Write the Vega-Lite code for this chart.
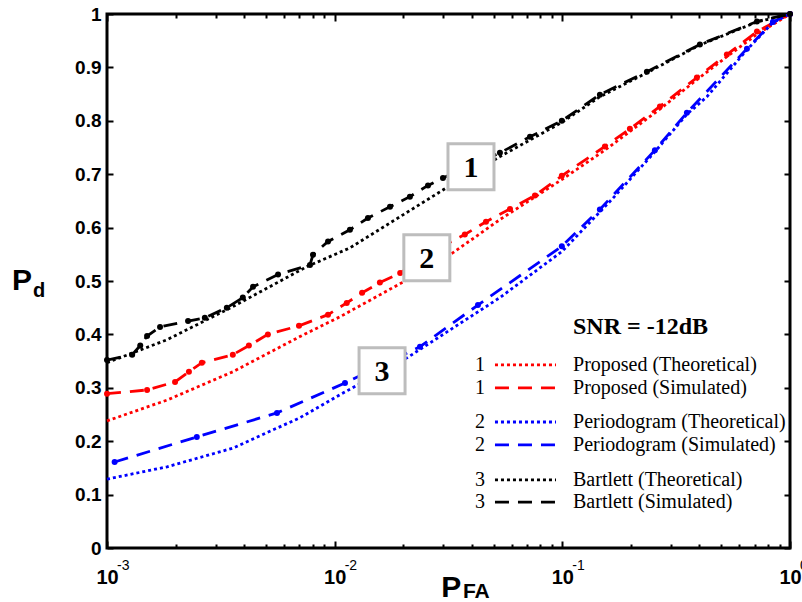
{
  "$schema": "https://vega.github.io/schema/vega-lite/v6.json",
  "width": 683,
  "height": 534,
  "autosize": {"type": "none"},
  "padding": {"left": 107, "top": 14, "right": 12, "bottom": 54},
  "background": "white",
  "config": {"view": {"stroke": "black", "strokeWidth": 3}},
  "datasets": {
    "curves": [
      {"series": "Proposed (Theoretical)", "pfa": 0.001, "pd": 0.238},
      {"series": "Proposed (Theoretical)", "pfa": 0.001835, "pd": 0.277},
      {"series": "Proposed (Theoretical)", "pfa": 0.00357, "pd": 0.33},
      {"series": "Proposed (Theoretical)", "pfa": 0.00704, "pd": 0.396},
      {"series": "Proposed (Theoretical)", "pfa": 0.01055, "pd": 0.433},
      {"series": "Proposed (Theoretical)", "pfa": 0.02077, "pd": 0.502},
      {"series": "Proposed (Theoretical)", "pfa": 0.0331, "pd": 0.553},
      {"series": "Proposed (Theoretical)", "pfa": 0.0532, "pd": 0.615},
      {"series": "Proposed (Theoretical)", "pfa": 0.0995, "pd": 0.69},
      {"series": "Proposed (Theoretical)", "pfa": 0.1538, "pd": 0.745},
      {"series": "Proposed (Theoretical)", "pfa": 0.2684, "pd": 0.822},
      {"series": "Proposed (Theoretical)", "pfa": 0.39, "pd": 0.877},
      {"series": "Proposed (Theoretical)", "pfa": 0.528, "pd": 0.92},
      {"series": "Proposed (Theoretical)", "pfa": 0.716, "pd": 0.962},
      {"series": "Proposed (Theoretical)", "pfa": 1, "pd": 1},

      {"series": "Proposed (Simulated)", "pfa": 0.001, "pd": 0.289},
      {"series": "Proposed (Simulated)", "pfa": 0.0015, "pd": 0.296},
      {"series": "Proposed (Simulated)", "pfa": 0.00199, "pd": 0.311},
      {"series": "Proposed (Simulated)", "pfa": 0.00229, "pd": 0.33},
      {"series": "Proposed (Simulated)", "pfa": 0.00261, "pd": 0.347},
      {"series": "Proposed (Simulated)", "pfa": 0.00357, "pd": 0.362},
      {"series": "Proposed (Simulated)", "pfa": 0.0042, "pd": 0.379},
      {"series": "Proposed (Simulated)", "pfa": 0.00509, "pd": 0.4},
      {"series": "Proposed (Simulated)", "pfa": 0.00697, "pd": 0.416},
      {"series": "Proposed (Simulated)", "pfa": 0.00935, "pd": 0.437},
      {"series": "Proposed (Simulated)", "pfa": 0.0113, "pd": 0.459},
      {"series": "Proposed (Simulated)", "pfa": 0.0132, "pd": 0.478},
      {"series": "Proposed (Simulated)", "pfa": 0.0158, "pd": 0.497},
      {"series": "Proposed (Simulated)", "pfa": 0.0194, "pd": 0.515},
      {"series": "Proposed (Simulated)", "pfa": 0.0262, "pd": 0.553},
      {"series": "Proposed (Simulated)", "pfa": 0.0373, "pd": 0.587},
      {"series": "Proposed (Simulated)", "pfa": 0.0462, "pd": 0.611},
      {"series": "Proposed (Simulated)", "pfa": 0.0589, "pd": 0.635},
      {"series": "Proposed (Simulated)", "pfa": 0.0758, "pd": 0.66},
      {"series": "Proposed (Simulated)", "pfa": 0.0995, "pd": 0.697},
      {"series": "Proposed (Simulated)", "pfa": 0.1538, "pd": 0.752},
      {"series": "Proposed (Simulated)", "pfa": 0.198, "pd": 0.785},
      {"series": "Proposed (Simulated)", "pfa": 0.2684, "pd": 0.827},
      {"series": "Proposed (Simulated)", "pfa": 0.39, "pd": 0.881},
      {"series": "Proposed (Simulated)", "pfa": 0.528, "pd": 0.924},
      {"series": "Proposed (Simulated)", "pfa": 0.716, "pd": 0.967},
      {"series": "Proposed (Simulated)", "pfa": 1, "pd": 1},

      {"series": "Periodogram (Theoretical)", "pfa": 0.001, "pd": 0.129},
      {"series": "Periodogram (Theoretical)", "pfa": 0.001835, "pd": 0.152},
      {"series": "Periodogram (Theoretical)", "pfa": 0.00357, "pd": 0.187},
      {"series": "Periodogram (Theoretical)", "pfa": 0.00704, "pd": 0.244},
      {"series": "Periodogram (Theoretical)", "pfa": 0.01055, "pd": 0.287},
      {"series": "Periodogram (Theoretical)", "pfa": 0.02077, "pd": 0.356},
      {"series": "Periodogram (Theoretical)", "pfa": 0.0532, "pd": 0.469},
      {"series": "Periodogram (Theoretical)", "pfa": 0.0995, "pd": 0.555},
      {"series": "Periodogram (Theoretical)", "pfa": 0.1668, "pd": 0.655},
      {"series": "Periodogram (Theoretical)", "pfa": 0.255, "pd": 0.742},
      {"series": "Periodogram (Theoretical)", "pfa": 0.3524, "pd": 0.812},
      {"series": "Periodogram (Theoretical)", "pfa": 0.4315, "pd": 0.845},
      {"series": "Periodogram (Theoretical)", "pfa": 0.647, "pd": 0.933},
      {"series": "Periodogram (Theoretical)", "pfa": 0.841, "pd": 0.984},
      {"series": "Periodogram (Theoretical)", "pfa": 1, "pd": 1},

      {"series": "Periodogram (Simulated)", "pfa": 0.00108, "pd": 0.161},
      {"series": "Periodogram (Simulated)", "pfa": 0.00248, "pd": 0.208},
      {"series": "Periodogram (Simulated)", "pfa": 0.00558, "pd": 0.253},
      {"series": "Periodogram (Simulated)", "pfa": 0.0111, "pd": 0.309},
      {"series": "Periodogram (Simulated)", "pfa": 0.0237, "pd": 0.377},
      {"series": "Periodogram (Simulated)", "pfa": 0.0426, "pd": 0.455},
      {"series": "Periodogram (Simulated)", "pfa": 0.0995, "pd": 0.565},
      {"series": "Periodogram (Simulated)", "pfa": 0.1462, "pd": 0.634},
      {"series": "Periodogram (Simulated)", "pfa": 0.255, "pd": 0.745},
      {"series": "Periodogram (Simulated)", "pfa": 0.3524, "pd": 0.815},
      {"series": "Periodogram (Simulated)", "pfa": 0.647, "pd": 0.935},
      {"series": "Periodogram (Simulated)", "pfa": 0.841, "pd": 0.985},
      {"series": "Periodogram (Simulated)", "pfa": 1, "pd": 1},

      {"series": "Bartlett (Theoretical)", "pfa": 0.001, "pd": 0.347},
      {"series": "Bartlett (Theoretical)", "pfa": 0.001835, "pd": 0.39},
      {"series": "Bartlett (Theoretical)", "pfa": 0.00357, "pd": 0.452},
      {"series": "Bartlett (Theoretical)", "pfa": 0.00756, "pd": 0.527},
      {"series": "Bartlett (Theoretical)", "pfa": 0.01167, "pd": 0.562},
      {"series": "Bartlett (Theoretical)", "pfa": 0.0311, "pd": 0.675},
      {"series": "Bartlett (Theoretical)", "pfa": 0.0532, "pd": 0.733},
      {"series": "Bartlett (Theoretical)", "pfa": 0.0995, "pd": 0.797},
      {"series": "Bartlett (Theoretical)", "pfa": 0.1462, "pd": 0.845},
      {"series": "Bartlett (Theoretical)", "pfa": 0.2352, "pd": 0.89},
      {"series": "Bartlett (Theoretical)", "pfa": 0.402, "pd": 0.942},
      {"series": "Bartlett (Theoretical)", "pfa": 0.716, "pd": 0.985},
      {"series": "Bartlett (Theoretical)", "pfa": 1, "pd": 1},

      {"series": "Bartlett (Simulated)", "pfa": 0.001, "pd": 0.352},
      {"series": "Bartlett (Simulated)", "pfa": 0.00129, "pd": 0.362},
      {"series": "Bartlett (Simulated)", "pfa": 0.0014, "pd": 0.379},
      {"series": "Bartlett (Simulated)", "pfa": 0.0015, "pd": 0.397},
      {"series": "Bartlett (Simulated)", "pfa": 0.00171, "pd": 0.414},
      {"series": "Bartlett (Simulated)", "pfa": 0.00227, "pd": 0.425},
      {"series": "Bartlett (Simulated)", "pfa": 0.00269, "pd": 0.431},
      {"series": "Bartlett (Simulated)", "pfa": 0.00336, "pd": 0.45},
      {"series": "Bartlett (Simulated)", "pfa": 0.00395, "pd": 0.469},
      {"series": "Bartlett (Simulated)", "pfa": 0.00438, "pd": 0.489},
      {"series": "Bartlett (Simulated)", "pfa": 0.00564, "pd": 0.512},
      {"series": "Bartlett (Simulated)", "pfa": 0.00779, "pd": 0.53},
      {"series": "Bartlett (Simulated)", "pfa": 0.00803, "pd": 0.549},
      {"series": "Bartlett (Simulated)", "pfa": 0.00935, "pd": 0.574},
      {"series": "Bartlett (Simulated)", "pfa": 0.01167, "pd": 0.596},
      {"series": "Bartlett (Simulated)", "pfa": 0.014, "pd": 0.618},
      {"series": "Bartlett (Simulated)", "pfa": 0.0175, "pd": 0.639},
      {"series": "Bartlett (Simulated)", "pfa": 0.0214, "pd": 0.658},
      {"series": "Bartlett (Simulated)", "pfa": 0.0257, "pd": 0.679},
      {"series": "Bartlett (Simulated)", "pfa": 0.0299, "pd": 0.693},
      {"series": "Bartlett (Simulated)", "pfa": 0.0532, "pd": 0.74},
      {"series": "Bartlett (Simulated)", "pfa": 0.0721, "pd": 0.77},
      {"series": "Bartlett (Simulated)", "pfa": 0.0995, "pd": 0.8},
      {"series": "Bartlett (Simulated)", "pfa": 0.1462, "pd": 0.849},
      {"series": "Bartlett (Simulated)", "pfa": 0.2352, "pd": 0.892},
      {"series": "Bartlett (Simulated)", "pfa": 0.402, "pd": 0.943},
      {"series": "Bartlett (Simulated)", "pfa": 0.716, "pd": 0.986},
      {"series": "Bartlett (Simulated)", "pfa": 1, "pd": 1}
    ],
    "boxes": [
      {"label": "1", "pfa": 0.0397, "pd": 0.714},
      {"label": "2", "pfa": 0.0254, "pd": 0.5436},
      {"label": "3", "pfa": 0.01615, "pd": 0.332}
    ],
    "legend": [
      {"num": "1", "series": "Proposed (Theoretical)", "pd": 0.343},
      {"num": "1", "series": "Proposed (Simulated)", "pd": 0.3},
      {"num": "2", "series": "Periodogram (Theoretical)", "pd": 0.236},
      {"num": "2", "series": "Periodogram (Simulated)", "pd": 0.193},
      {"num": "3", "series": "Bartlett (Theoretical)", "pd": 0.1275},
      {"num": "3", "series": "Bartlett (Simulated)", "pd": 0.086}
    ],
    "exponents": [
      {"pfa": 0.001, "exp": "-3"},
      {"pfa": 0.01, "exp": "-2"},
      {"pfa": 0.1, "exp": "-1"},
      {"pfa": 1, "exp": "0"}
    ]
  },
  "resolve": {"axis": {"x": "independent", "y": "independent"}},
  "layer": [
    {
      "data": {"name": "curves"},
      "mark": {"type": "line", "strokeWidth": 2.8},
      "encoding": {
        "x": {"field": "pfa", "type": "quantitative",
          "scale": {"type": "log", "domain": [0.001, 1], "nice": false},
          "axis": {"orient": "bottom", "title": null, "grid": false, "domain": false, "ticks": true,
            "values": [0.001, 0.002, 0.003, 0.004, 0.005, 0.006, 0.007, 0.008, 0.009, 0.01, 0.02, 0.03, 0.04, 0.05, 0.06, 0.07, 0.08, 0.09, 0.1, 0.2, 0.3, 0.4, 0.5, 0.6, 0.7, 0.8, 0.9, 1],
            "labelExpr": "datum.value == 0.001 || datum.value == 0.01 || datum.value == 0.1 || datum.value == 1 ? '10' : ''",
            "tickSize": {"condition": {"test": "datum.value == 0.001 || datum.value == 0.01 || datum.value == 0.1 || datum.value == 1", "value": -7}, "value": -4},
            "tickWidth": 2, "tickColor": "black", "tickOpacity": 1,
            "labelFont": "Liberation Sans", "labelFontWeight": "bold", "labelFontSize": 20, "labelColor": "black",
            "labelPadding": 26, "labelOverlap": false, "labelFlush": false}},
        "y": {"field": "pd", "type": "quantitative",
          "scale": {"domain": [0, 1], "nice": false},
          "axis": {"orient": "left", "title": null, "grid": false, "domain": false, "ticks": true,
            "values": [0, 0.1, 0.2, 0.3, 0.4, 0.5, 0.6, 0.7, 0.8, 0.9, 1], "format": ".1~f",
            "tickSize": -6, "tickWidth": 2, "tickColor": "black", "tickOpacity": 1,
            "labelFont": "Liberation Sans", "labelFontWeight": "bold", "labelFontSize": 19, "labelColor": "black",
            "labelPadding": 12, "labelOverlap": false, "labelFlush": false}},
        "color": {"field": "series", "type": "nominal", "legend": null,
          "scale": {"domain": ["Proposed (Theoretical)", "Proposed (Simulated)", "Periodogram (Theoretical)", "Periodogram (Simulated)", "Bartlett (Theoretical)", "Bartlett (Simulated)"],
            "range": ["#ff0000", "#ff0000", "#0000ff", "#0000ff", "#000000", "#000000"]}},
        "strokeDash": {"field": "series", "type": "nominal", "legend": null,
          "scale": {"domain": ["Proposed (Theoretical)", "Proposed (Simulated)", "Periodogram (Theoretical)", "Periodogram (Simulated)", "Bartlett (Theoretical)", "Bartlett (Simulated)"],
            "range": [[3, 3], [14, 9], [3, 3], [14, 9], [3, 3], [14, 9]]}},
        "order": {"field": "pfa", "type": "quantitative"}
      }
    },
    {
      "data": {"name": "curves"},
      "transform": [{"filter": "indexof(datum.series, 'Simulated') >= 0"}],
      "mark": {"type": "point", "filled": true, "size": 36, "opacity": 1},
      "encoding": {
        "x": {"field": "pfa", "type": "quantitative", "scale": {"type": "log", "domain": [0.001, 1], "nice": false}, "axis": null},
        "y": {"field": "pd", "type": "quantitative", "scale": {"domain": [0, 1], "nice": false}, "axis": null},
        "color": {"field": "series", "type": "nominal", "legend": null}
      }
    },
    {
      "data": {"name": "boxes"},
      "mark": {"type": "square", "size": 2116, "fill": "white", "stroke": "#bdbdbd", "strokeWidth": 3, "opacity": 1},
      "encoding": {
        "x": {"field": "pfa", "type": "quantitative", "axis": null},
        "y": {"field": "pd", "type": "quantitative", "axis": null}
      }
    },
    {
      "data": {"name": "boxes"},
      "mark": {"type": "text", "font": "Liberation Serif", "fontWeight": "bold", "fontSize": 30, "color": "black", "align": "center", "baseline": "middle", "dy": 1},
      "encoding": {
        "x": {"field": "pfa", "type": "quantitative", "axis": null},
        "y": {"field": "pd", "type": "quantitative", "axis": null},
        "text": {"field": "label"}
      }
    },
    {
      "data": {"name": "legend"},
      "mark": {"type": "rule", "strokeWidth": 2.8},
      "encoding": {
        "x": {"datum": 0.0506, "type": "quantitative", "axis": null},
        "x2": {"datum": 0.0938},
        "y": {"field": "pd", "type": "quantitative", "axis": null},
        "color": {"field": "series", "type": "nominal", "legend": null},
        "strokeDash": {"field": "series", "type": "nominal", "legend": null}
      }
    },
    {
      "data": {"name": "legend"},
      "mark": {"type": "text", "font": "Liberation Serif", "fontSize": 20, "color": "black", "align": "center", "baseline": "middle"},
      "encoding": {
        "x": {"datum": 0.0435, "type": "quantitative", "axis": null},
        "y": {"field": "pd", "type": "quantitative", "axis": null},
        "text": {"field": "num"}
      }
    },
    {
      "data": {"name": "legend"},
      "mark": {"type": "text", "font": "Liberation Serif", "fontSize": 20, "color": "black", "align": "left", "baseline": "middle"},
      "encoding": {
        "x": {"datum": 0.1114, "type": "quantitative", "axis": null},
        "y": {"field": "pd", "type": "quantitative", "axis": null},
        "text": {"field": "series"}
      }
    },
    {
      "data": {"values": [{"text": "SNR = -12dB"}]},
      "mark": {"type": "text", "font": "Liberation Serif", "fontWeight": "bold", "fontSize": 24, "color": "black", "align": "left", "baseline": "middle"},
      "encoding": {
        "x": {"datum": 0.1114, "type": "quantitative", "axis": null},
        "y": {"datum": 0.414, "type": "quantitative", "axis": null},
        "text": {"field": "text"}
      }
    },
    {
      "data": {"name": "exponents"},
      "mark": {"type": "text", "font": "Liberation Sans", "fontSize": 14, "color": "black", "align": "left", "baseline": "alphabetic", "dx": 10},
      "encoding": {
        "x": {"field": "pfa", "type": "quantitative", "axis": null},
        "y": {"datum": -0.0412, "type": "quantitative", "axis": null},
        "text": {"field": "exp"}
      }
    },
    {
      "data": {"values": [{"text": "P"}]},
      "mark": {"type": "text", "font": "Liberation Sans", "fontWeight": "bold", "fontSize": 30, "color": "black", "align": "center", "baseline": "alphabetic"},
      "encoding": {
        "x": {"datum": 0.0325, "type": "quantitative", "axis": null},
        "y": {"datum": -0.0918, "type": "quantitative", "axis": null},
        "text": {"field": "text"}
      }
    },
    {
      "data": {"values": [{"text": "FA"}]},
      "mark": {"type": "text", "font": "Liberation Sans", "fontWeight": "bold", "fontSize": 21, "color": "black", "align": "left", "baseline": "alphabetic"},
      "encoding": {
        "x": {"datum": 0.0366, "type": "quantitative", "axis": null},
        "y": {"datum": -0.0935, "type": "quantitative", "axis": null},
        "text": {"field": "text"}
      }
    },
    {
      "data": {"values": [{"text": "P"}]},
      "mark": {"type": "text", "font": "Liberation Sans", "fontWeight": "bold", "fontSize": 30, "color": "black", "align": "center", "baseline": "alphabetic"},
      "encoding": {
        "x": {"datum": 0.000423, "type": "quantitative", "axis": null},
        "y": {"datum": 0.4836, "type": "quantitative", "axis": null},
        "text": {"field": "text"}
      }
    },
    {
      "data": {"values": [{"text": "d"}]},
      "mark": {"type": "text", "font": "Liberation Sans", "fontWeight": "bold", "fontSize": 20, "color": "black", "align": "left", "baseline": "alphabetic"},
      "encoding": {
        "x": {"datum": 0.000473, "type": "quantitative", "axis": null},
        "y": {"datum": 0.4705, "type": "quantitative", "axis": null},
        "text": {"field": "text"}
      }
    },
    {
      "data": {"name": "curves"},
      "mark": {"type": "point", "opacity": 0},
      "encoding": {
        "x": {"field": "pfa", "type": "quantitative",
          "axis": {"orient": "top", "title": null, "grid": false, "domain": false, "labels": false, "ticks": true,
            "values": [0.001, 0.002, 0.003, 0.004, 0.005, 0.006, 0.007, 0.008, 0.009, 0.01, 0.02, 0.03, 0.04, 0.05, 0.06, 0.07, 0.08, 0.09, 0.1, 0.2, 0.3, 0.4, 0.5, 0.6, 0.7, 0.8, 0.9, 1],
            "tickSize": {"condition": {"test": "datum.value == 0.001 || datum.value == 0.01 || datum.value == 0.1 || datum.value == 1", "value": -7}, "value": -4},
            "tickWidth": 2, "tickColor": "black", "tickOpacity": 1}},
        "y": {"field": "pd", "type": "quantitative",
          "axis": {"orient": "right", "title": null, "grid": false, "domain": false, "labels": false, "ticks": true,
            "values": [0, 0.1, 0.2, 0.3, 0.4, 0.5, 0.6, 0.7, 0.8, 0.9, 1],
            "tickSize": -6, "tickWidth": 2, "tickColor": "black", "tickOpacity": 1}}
      }
    }
  ]
}
